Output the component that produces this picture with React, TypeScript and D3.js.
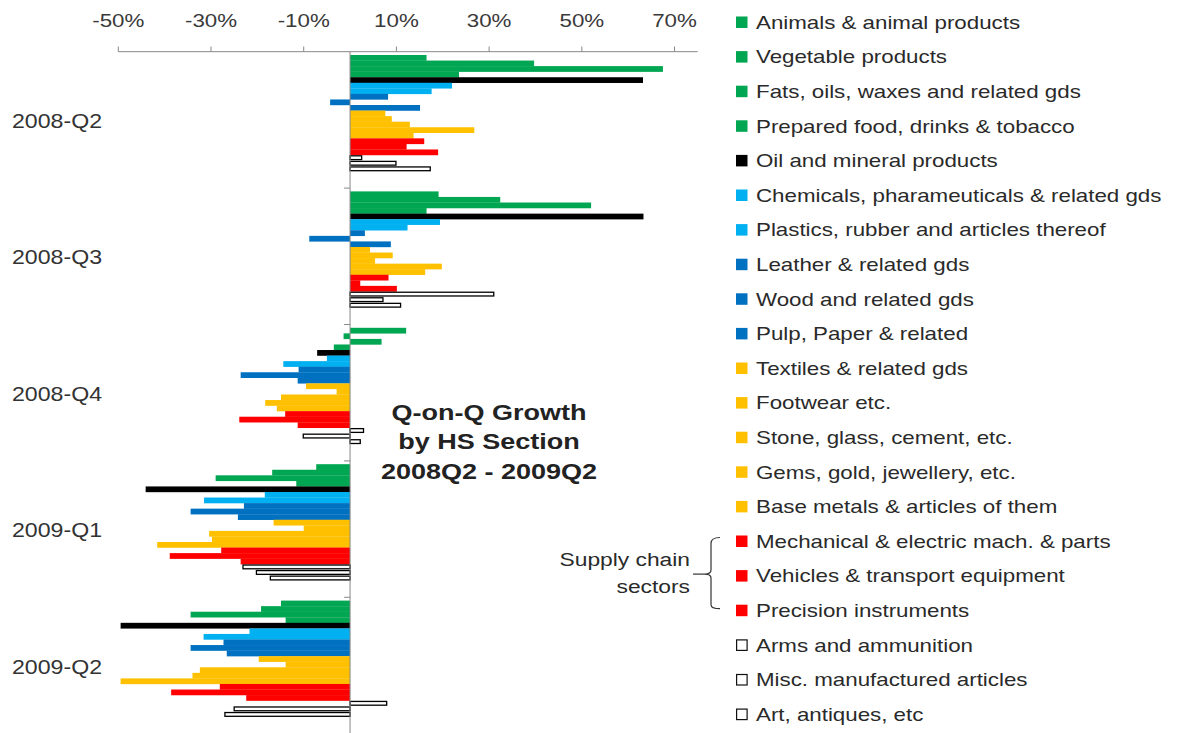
import React from "react";
import * as d3 from "d3";

// ---------- data ----------
const quarters = ["2008-Q2", "2008-Q3", "2008-Q4", "2009-Q1", "2009-Q2"];

const sectors = [
  "Animals & animal products",
  "Vegetable products",
  "Fats, oils, waxes and related gds",
  "Prepared food, drinks & tobacco",
  "Oil and mineral products",
  "Chemicals, pharameuticals & related gds",
  "Plastics, rubber and articles thereof",
  "Leather & related gds",
  "Wood and related gds",
  "Pulp, Paper & related",
  "Textiles & related gds",
  "Footwear etc.",
  "Stone, glass, cement, etc.",
  "Gems, gold, jewellery, etc.",
  "Base metals & articles of them",
  "Mechanical & electric mach. & parts",
  "Vehicles & transport equipment",
  "Precision instruments",
  "Arms and ammunition",
  "Misc. manufactured articles",
  "Art, antiques, etc",
];

const sectorGroup = [
  "green", "green", "green", "green",
  "black",
  "lightblue", "lightblue",
  "blue", "blue", "blue",
  "yellow", "yellow", "yellow", "yellow", "yellow",
  "red", "red", "red",
  "none", "none", "none",
];

// growth in % per quarter, same order as sectors
const growth2008Q2 = [16.5, 39.7, 67.5, 23.5, 63.2, 22.0, 17.6, 8.2, -4.3, 15.1, 7.6, 9.0, 12.9, 26.8, 13.7, 16.0, 12.2, 19.0, 2.5, 9.9, 17.3];
const growth2008Q3 = [19.1, 32.4, 52.0, 16.5, 63.3, 19.4, 12.4, 3.2, -8.8, 8.8, 4.3, 9.2, 5.4, 19.8, 16.2, 8.3, 2.2, 10.1, 31.0, 7.1, 10.9];
const growth2008Q4 = [12.1, -1.4, 6.8, -3.5, -7.1, -5.0, -14.4, -11.1, -23.6, -11.3, -9.5, -2.9, -14.9, -18.3, -15.8, -14.0, -23.9, -11.3, 2.9, -10.1, 2.2];
const growth2009Q1 = [-7.3, -16.8, -29.0, -11.6, -44.1, -18.4, -31.5, -22.9, -34.4, -24.2, -16.5, -10.0, -30.4, -29.8, -41.6, -27.8, -38.9, -23.6, -23.1, -20.2, -17.2];
const growth2009Q2 = [-14.9, -19.2, -34.4, -13.9, -49.5, -21.7, -31.6, -27.3, -34.4, -26.6, -19.7, -13.9, -32.4, -34.0, -49.5, -28.1, -38.6, -22.4, 7.9, -25.0, -27.0];

const xTicks = [-50, -30, -10, 10, 30, 50, 70];
const titleLines = ["Q-on-Q Growth", "by HS Section", "2008Q2 - 2009Q2"];
const braceLabel = ["Supply chain", "sectors"];

const groupColors: Record<string, string> = {
  green: "#00a651",
  black: "#000000",
  lightblue: "#00b0f0",
  blue: "#0070c0",
  yellow: "#ffc000",
  red: "#ff0000",
  none: "#ffffff",
};

const W = 1184;
const H = 733;
const SX = 1.2; // horizontal text stretch of the original
const FONT = "'Liberation Sans', Arial, Helvetica, sans-serif";

function T(props: {
  x: number; y: number; size: number; anchor?: string; weight?: string; fill?: string; children: React.ReactNode;
}) {
  const { x, y, size, anchor = "start", weight = "normal", fill = "#333", children } = props;
  return (
    <text
      transform={`translate(${x},${y}) scale(${SX},1)`}
      textAnchor={anchor}
      fontFamily={FONT}
      fontSize={size}
      fontWeight={weight}
      fill={fill}
    >
      {children}
    </text>
  );
}

export default function App() {
  const table = [growth2008Q2, growth2008Q3, growth2008Q4, growth2009Q1, growth2009Q2];

  const x = d3.scaleLinear().domain([-50, 75]).range([118.3, 697.7]);
  const y0 = 51.7;
  const bandH = 136.4;
  const yGroup = d3.scaleBand<string>().domain(quarters).range([y0, y0 + bandH * quarters.length]);
  const ySeries = d3.scaleBand<string>().domain(sectors).range([3.3, 120]);
  const step = ySeries.step();
  const zeroX = x(0);

  const legendX = 736;
  const legendY0 = 22.5;
  const legendStep = 34.6;

  const mechY = legendY0 + legendStep * 15;
  const vehY = legendY0 + legendStep * 16;
  const precY = legendY0 + legendStep * 17;

  return (
    <div style={{ position: "absolute", left: 0, top: 0 }}>
      <svg width={W} height={H} style={{ display: "block", background: "#fff" }}>
        {/* bars */}
        {quarters.map((q, gi) => {
          const gy = yGroup(q)!;
          return (
            <g key={q}>
              {sectors.map((s, si) => {
                const v = table[gi][si];
                const grp = sectorGroup[si];
                const by = gy + ySeries(s)!;
                const x1 = Math.min(x(v), zeroX);
                const w = Math.abs(x(v) - zeroX);
                if (grp === "none") {
                  return (
                    <rect
                      key={s}
                      x={x1}
                      y={by + 0.8}
                      width={w}
                      height={step - 1.8}
                      fill="#fff"
                      stroke="#000"
                      strokeWidth={1.3}
                    />
                  );
                }
                return (
                  <rect key={s} x={x1} y={by} width={w} height={step + 0.2} fill={groupColors[grp]} />
                );
              })}
            </g>
          );
        })}

        {/* top value axis */}
        <line x1={x(-50)} x2={x(75)} y1={y0} y2={y0} stroke="#888" strokeWidth={1} />
        {xTicks.map((t) => (
          <g key={t}>
            <line x1={x(t)} x2={x(t)} y1={46.5} y2={y0} stroke="#888" strokeWidth={1} />
            <T x={x(t)} y={26.8} size={18.6} anchor="middle" fill="#3a3a3a">
              {`${t}%`}
            </T>
          </g>
        ))}

        {/* zero / category axis */}
        <line x1={zeroX} x2={zeroX} y1={y0} y2={H} stroke="#888" strokeWidth={1} />
        {quarters.map((q, gi) =>
          gi > 0 ? (
            <line key={q} x1={zeroX - 6} x2={zeroX} y1={yGroup(q)!} y2={yGroup(q)!} stroke="#888" strokeWidth={1} />
          ) : null
        )}
        {quarters.map((q) => (
          <T key={q} x={12} y={yGroup(q)! + bandH / 2 + 8} size={19.3} fill="#333">
            {q}
          </T>
        ))}

        {/* title */}
        {titleLines.map((l, i) => (
          <T key={l} x={489} y={419.5 + i * 29.5} size={22.5} anchor="middle" weight="bold" fill="#222">
            {l}
          </T>
        ))}

        {/* legend */}
        {sectors.map((s, i) => {
          const cy = legendY0 + legendStep * i;
          const grp = sectorGroup[i];
          return (
            <g key={s}>
              {grp === "none" ? (
                <rect x={legendX + 0.6} y={cy - 5.4} width={10.5} height={10.5} fill="#fff" stroke="#111" strokeWidth={1.2} />
              ) : (
                <rect x={legendX} y={cy - 6} width={11.5} height={11.5} fill={groupColors[grp]} />
              )}
              <T x={756} y={cy + 6.3} size={18.6} fill="#2a2a2a">
                {s}
              </T>
            </g>
          );
        })}

        {/* supply chain brace */}
        <T x={690} y={565.5} size={19} anchor="end" fill="#2a2a2a">
          {braceLabel[0]}
        </T>
        <T x={690} y={592.5} size={19} anchor="end" fill="#2a2a2a">
          {braceLabel[1]}
        </T>
        <path
          d={`M${legendX - 16},${mechY - 4} Q${legendX - 25},${mechY - 4} ${legendX - 25},${mechY + 2}
              L${legendX - 25},${vehY - 6} Q${legendX - 25},${vehY - 2} ${legendX - 31},${vehY - 2}
              Q${legendX - 25},${vehY - 2} ${legendX - 25},${vehY + 2}
              L${legendX - 25},${precY - 6} Q${legendX - 25},${precY - 2} ${legendX - 16},${precY - 2}`}
          fill="none"
          stroke="#333"
          strokeWidth={1.2}
        />
        <line x1={693} x2={legendX - 31} y1={vehY - 2} y2={vehY - 2} stroke="#333" strokeWidth={1.2} />
      </svg>
    </div>
  );
}
